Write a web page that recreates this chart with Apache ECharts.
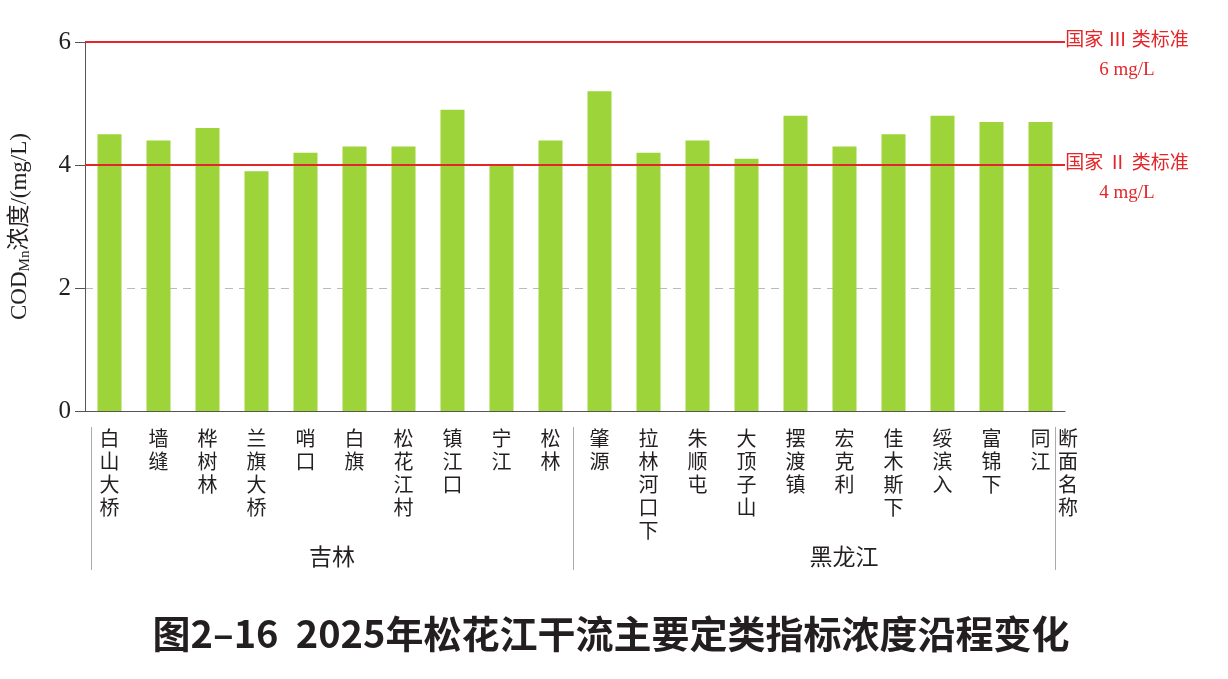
<!DOCTYPE html>
<html><head><meta charset="utf-8">
<script src="https://cdn.jsdelivr.net/npm/echarts@6/dist/echarts.min.js"></script>
<style>html,body{margin:0;padding:0;background:#fff}#c{width:1228px;height:679px}</style>
</head><body><div id="c"></div>
<script>
const sites = ['白山大桥','墙缝','桦树林','兰旗大桥','哨口','白旗','松花江村','镇江口','宁江','松林',
  '肇源','拉林河口下','朱顺屯','大顶子山','摆渡镇','宏克利','佳木斯下','绥滨入','富锦下','同江'];
const codMn = [4.5,4.4,4.6,3.9,4.2,4.3,4.3,4.9,4.0,4.4,
  5.2,4.2,4.4,4.1,4.8,4.3,4.5,4.8,4.7,4.7];
const provinces = ['吉林','黑龙江'];
const stdValues = [6,4];
const stdClasses = ['Ⅲ','Ⅱ'];
const yTicks = [0,2,4,6];

const serif = '"Liberation Serif","Noto Sans CJK SC",serif';
const cjk = '"Noto Sans CJK SC",sans-serif';
const ink = '#231f20';
const red = '#e3262a';

const chart = echarts.init(document.getElementById('c'));
chart.setOption({
  animation:false,
  title:{
    text:'图2–16  2025年松花江干流主要定类指标浓度沿程变化',
    left:606, textAlign:'center', top:610,
    textStyle:{fontFamily:cjk,fontSize:38,fontWeight:'bold',color:ink}
  },
  grid:[
    {left:85,right:163,top:42,bottom:268},
    {left:91,right:173,top:420,bottom:109}
  ],
  xAxis:[{
    type:'category', gridIndex:0, data:sites,
    axisLine:{lineStyle:{color:'#555',width:1}},
    axisTick:{show:false},
    axisLabel:{interval:0,margin:16,fontFamily:cjk,fontSize:20,lineHeight:23,color:ink,
      verticalAlign:'top',
      formatter:v=>v.split('').join('\n')},
    name:'断\n面\n名\n称', nameLocation:'end', nameGap:-7,
    nameTextStyle:{fontFamily:cjk,fontSize:20,lineHeight:23,color:ink,align:'left',verticalAlign:'top',padding:[16,0,0,0]}
  },{
    type:'category', gridIndex:1, data:provinces, position:'bottom',
    axisLine:{show:false},
    axisTick:{show:true,inside:true,length:143,lineStyle:{color:'#aaa',width:1}},
    axisLabel:{inside:true,margin:2,
      formatter:v=> v==='黑龙江' ? '{h|'+v+'}' : '{j|'+v+'}',
      rich:{
        j:{fontFamily:cjk,fontSize:23,color:ink},
        h:{fontFamily:cjk,fontSize:23,color:ink,padding:[0,0,0,60]}
      }}
  }],
  yAxis:[{
    type:'value', gridIndex:0, min:yTicks[0], max:yTicks[yTicks.length-1], interval:2,
    axisLine:{show:true,lineStyle:{color:'#555',width:1}},
    axisTick:{show:true,length:10,lineStyle:{color:'#555'}},
    axisLabel:{fontFamily:serif,fontSize:25,color:ink,margin:14},
    splitLine:{show:true,lineStyle:{color:'#bbb',type:[8,6],width:1}},
    name:'{a|COD}{s|Mn}{a|浓度/(mg/L)}', nameLocation:'middle', nameRotate:90, nameGap:52,
    nameTextStyle:{rich:{
      a:{fontFamily:serif,fontSize:23,color:ink,lineHeight:26},
      s:{fontFamily:serif,fontSize:15,color:ink,lineHeight:26,verticalAlign:'bottom',padding:[0,0,0,0]}
    }}
  },{
    type:'value', gridIndex:1, show:false
  }],
  series:[{
    type:'bar', xAxisIndex:0, yAxisIndex:0, data:codMn, barWidth:24,
    itemStyle:{color:'#9dd43a'},
    markLine:{
      silent:true, symbol:'none',
      lineStyle:{color:red,width:2,type:'solid'},
      label:{position:'end',distance:0,align:'center',offset:[62,14],
        fontFamily:serif,fontSize:19,lineHeight:29,color:red},
      data:stdValues.map((v,i)=>({yAxis:v,
        label:{formatter:'国家 '+stdClasses[i]+' 类标准\n'+v+' mg/L'}}))
    }
  }]
});
</script></body></html>
